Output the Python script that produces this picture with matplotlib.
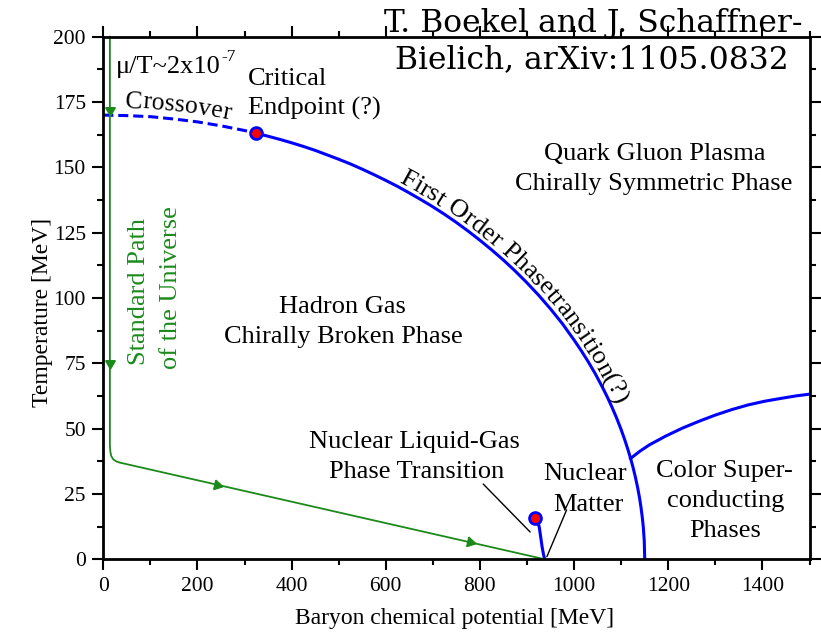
import numpy as np
import matplotlib
matplotlib.use("Agg")
import matplotlib.pyplot as plt
from matplotlib.ticker import MultipleLocator
from matplotlib.transforms import IdentityTransform

plt.rcParams["font.family"] = ["Liberation Serif", "DejaVu Serif"]

# ---- phase boundaries (baryon chemical potential mu [MeV], temperature T [MeV]) ----
crossover_mu = [0, 50, 100, 150, 200, 250, 300, 324]
crossover_T = [170.0, 169.8, 169.4, 168.5, 167.4, 165.9, 164.1, 163.1]

first_order_mu = [324, 350, 375, 400, 425, 450, 475, 500, 525, 550, 575, 600, 625,
                  650, 675, 700, 725, 750, 775, 800, 825, 850, 875, 900, 925, 950,
                  975, 1000, 1015, 1030, 1045, 1060, 1070, 1080, 1090, 1100, 1108,
                  1115, 1120, 1125, 1130, 1135, 1139, 1142, 1145, 1147, 1149, 1150]
first_order_T = [163.1, 161.9, 160.7, 159.4, 158.0, 156.5, 154.8, 153.1, 151.3, 149.3,
                 147.2, 145.0, 142.7, 140.2, 137.6, 134.9, 132.0, 128.9, 125.6, 122.1,
                 118.4, 114.5, 110.3, 105.8, 101.0, 95.8, 90.2, 83.9, 79.9, 75.6, 71.0,
                 65.9, 62.3, 58.4, 54.2, 49.6, 45.5, 41.6, 38.6, 35.3, 31.6, 27.4, 23.5,
                 20.0, 15.8, 12.3, 7.1, 0.0]

csc_mu = [1120, 1140, 1160, 1195, 1230, 1265, 1300, 1335, 1370, 1405, 1440, 1470, 1500]
csc_T = [38.6, 41.4, 43.8, 47.2, 50.2, 52.8, 55.2, 57.3, 59.1, 60.5, 61.6, 62.5, 63.2]

liquid_gas_mu = [918, 921, 924, 926, 929, 932, 935, 937.5]
liquid_gas_T = [15.9, 15.0, 13.7, 12.3, 8.6, 4.8, 1.9, 0.0]

critical_endpoint = (324, 163.1)
liquid_gas_endpoint = (918, 15.9)

# ---- standard path of the universe ----
path_mu = [14, 14, 15, 17, 21, 27, 35, 42.5, 938]
path_T = [200, 43.5, 41.2, 39.5, 38.3, 37.5, 37.0, 36.7, 0.0]
arrow_mu = [14, 14, 241, 779]
arrow_T = [172.0, 75.2, 28.56, 6.52]

BLUE = "#0000ff"
GREEN = "#1b8a1b"
LABEL_FS = 19

fig = plt.figure(figsize=(8.21, 6.36), dpi=100)
ax = fig.add_axes([0.1258, 0.1206, 0.8602, 0.8217])
ax.set_xlim(0, 1500)
ax.set_ylim(0, 200)

ax.xaxis.set_major_locator(MultipleLocator(200))
ax.xaxis.set_minor_locator(MultipleLocator(100))
ax.yaxis.set_major_locator(MultipleLocator(25))
ax.yaxis.set_minor_locator(MultipleLocator(12.5))
ax.tick_params(which="both", direction="out", top=True, right=True,
               labeltop=False, labelright=False, width=1.5, labelsize=15.5)
ax.tick_params(which="major", length=8, pad=4.5)
ax.tick_params(which="minor", length=4.5)
for sp in ax.spines.values():
    sp.set_linewidth(2.0)

# boundaries
ax.plot(crossover_mu, crossover_T, color=BLUE, lw=2.2, dashes=(3.3, 1.6))
ax.plot(first_order_mu, first_order_T, color=BLUE, lw=2.2)
ax.plot(csc_mu, csc_T, color=BLUE, lw=2.2)
ax.plot(liquid_gas_mu, liquid_gas_T, color=BLUE, lw=2.2)
for cx, cy in (critical_endpoint, liquid_gas_endpoint):
    ax.plot([cx], [cy], "o", ms=8.5, mfc="#ff0000", mec=BLUE, mew=2.0, zorder=5)

# path of the universe with direction arrows
ax.plot(path_mu, path_T, color=GREEN, lw=1.3, clip_on=False)
pp = ax.transData.transform(np.column_stack([path_mu, path_T]))
for amu, aT in zip(arrow_mu, arrow_T):
    p = ax.transData.transform((amu, aT))
    best, ang = 1e9, 0.0
    for k in range(len(pp) - 1):
        a, b = pp[k], pp[k + 1]
        d = b - a
        t = np.clip(np.dot(p - a, d) / np.dot(d, d), 0, 1)
        dist = np.hypot(*(a + t * d - p))
        if dist < best:
            best, ang = dist, np.degrees(np.arctan2(d[1], d[0]))
    ax.plot([amu], [aT], marker=(3, 0, ang - 90), ms=8, color=GREEN, mec=GREEN, zorder=4)


def text_along_curve(xs, ys, s, start_x, offset_px, **kw):
    """Write string s character by character along the curve (xs, ys)."""
    r = fig.canvas.get_renderer()
    pts = ax.transData.transform(np.column_stack([xs, ys]))
    seg = np.diff(pts, axis=0)
    cum = np.concatenate([[0], np.cumsum(np.hypot(seg[:, 0], seg[:, 1]))])
    seg_ang = np.arctan2(seg[:, 1], seg[:, 0])
    vang = np.concatenate([[seg_ang[0]], (seg_ang[:-1] + seg_ang[1:]) / 2, [seg_ang[-1]]])
    s0 = np.interp(start_x, xs, cum)

    def adv(sub):
        t = fig.text(0, 0, sub + "|", transform=IdentityTransform(), **kw)
        w = t.get_window_extent(r).width
        t.remove()
        return w

    bar = adv("")
    edges = [adv(s[:i]) - bar for i in range(len(s) + 1)]
    for i, ch in enumerate(s):
        if ch == " ":
            continue
        c = s0 + (edges[i] + edges[i + 1]) / 2
        x = np.interp(c, cum, pts[:, 0])
        y = np.interp(c, cum, pts[:, 1])
        a = np.interp(c, cum, vang)
        fig.text(x - offset_px * np.sin(a), y + offset_px * np.cos(a), ch,
                 rotation=np.degrees(a), rotation_mode="anchor", ha="center",
                 va="baseline", transform=IdentityTransform(), **kw)


text_along_curve(crossover_mu, crossover_T, "Crossover", 46, 8.0, fontsize=18.5)
text_along_curve(first_order_mu, first_order_T, "First Order Phasetransition(?)",
                 622, 4.0, fontsize=LABEL_FS)

# labels
def label(x, y, s, ha="center", **kw):
    kw.setdefault("fontsize", LABEL_FS)
    return ax.text(x, y, s, ha=ha, va="baseline", **kw)

mt = label(27, 186, "\u03bc/T~2x10", ha="left")
r = fig.canvas.get_renderer()
bb = mt.get_window_extent(r)
fig.text(bb.x1 + 1, bb.y0 + 17, "-7", fontsize=12.5, transform=IdentityTransform(),
         ha="left", va="baseline")

label(307.7, 181.5, "Critical", ha="left")
label(307.7, 170.3, "Endpoint (?)", ha="left")
label(1171, 152.8, "Quark Gluon Plasma")
label(1168, 141.4, "Chirally Symmetric Phase")
label(509, 94.1, "Hadron Gas")
label(510, 82.7, "Chirally Broken Phase")
label(660, 42.5, "Nuclear Liquid-Gas")
label(666, 31.0, "Phase Transition")
label(1024, 30.4, "Nuclear")
label(1031, 18.5, "Matter")
label(1320, 31.6, "Color Super-")
label(1321, 20.1, "conducting")
label(1320, 8.65, "Phases")
for x, y, s in ((88.6, 102.5, "Standard Path"), (156.5, 104.0, "of the Universe")):
    ax.text(x, y, s, rotation=90, rotation_mode="anchor", ha="center", va="baseline",
            color=GREEN, fontsize=LABEL_FS)

# leader lines
ax.annotate("", xy=(906.6, 10.45), xytext=(807, 28.8),
            arrowprops=dict(arrowstyle="-", color="k", lw=1.0, shrinkA=0, shrinkB=0))
ax.annotate("", xy=(942.2, 1.0), xytext=(984.1, 18.9),
            arrowprops=dict(arrowstyle="-", color="k", lw=1.0, shrinkA=0, shrinkB=0))

ax.set_xlabel("Baryon chemical potential [MeV]", fontsize=17)
ax.set_ylabel("Temperature [MeV]", fontsize=17)
ax.xaxis.set_label_coords(0.498, -0.093)
ax.yaxis.set_label_coords(-0.071, 0.473)

# reference
fig.text(0.7223, 0.9502, "T. Boekel and J. Schaffner-", ha="center", va="baseline",
         fontsize=22.6, family="DejaVu Serif")
fig.text(0.7210, 0.8926, "Bielich, arXiv:1105.0832", ha="center", va="baseline",
         fontsize=22.6, family="DejaVu Serif")

fig.savefig("out.png", dpi=100)
